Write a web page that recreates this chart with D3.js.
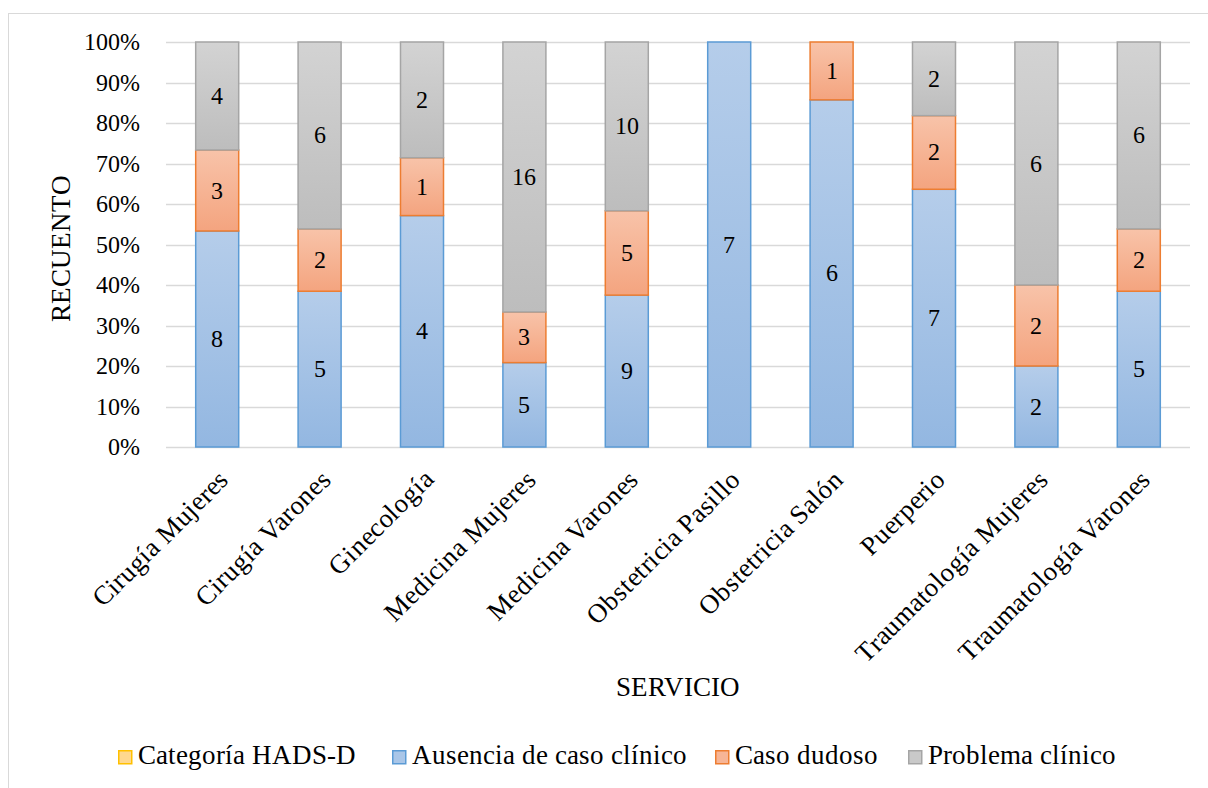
<!DOCTYPE html>
<html>
<head>
<meta charset="utf-8">
<script src="https://cdn.jsdelivr.net/npm/d3@7"></script>
<style>
  @font-face {
    font-family: "ChartSerif";
    src: local("Liberation Serif"), local("LiberationSerif"), local("LiberationSerif-Regular"), local("Times New Roman");
  }
</style>
</head>
<body style="margin:0">
<svg id="chart" width="1208" height="788"></svg>
<script>
// categories and series (counts per service)
var servicios = ["Cirugía Mujeres", "Cirugía Varones", "Ginecología", "Medicina Mujeres",
    "Medicina Varones", "Obstetricia Pasillo", "Obstetricia Salón", "Puerperio",
    "Traumatología Mujeres", "Traumatología Varones"];
var ausencia = [8, 5, 4, 5, 9, 7, 6, 7, 2, 5];
var dudoso   = [3, 2, 1, 3, 5, 0, 1, 2, 2, 2];
var problema = [4, 6, 2, 16, 10, 0, 0, 2, 6, 6];
var yTicks = [0, 0.1, 0.2, 0.3, 0.4, 0.5, 0.6, 0.7, 0.8, 0.9, 1];
var legendNames = ["Categoría HADS-D", "Ausencia de caso clínico", "Caso dudoso", "Problema clínico"];

var FONT = "ChartSerif, 'Liberation Serif'";

var series = [
    { key: "ausencia", values: ausencia, top: "#b5cdea", bottom: "#93b7e1", stroke: "#5b9bd5" },
    { key: "dudoso", values: dudoso, top: "#f8c3a9", bottom: "#f4a47f", stroke: "#ed7d31" },
    { key: "problema", values: problema, top: "#d3d3d3", bottom: "#bdbdbd", stroke: "#a5a5a5" }
];
var legendStyles = [
    { fill: "#ffd88f", stroke: "#ffc000" },
    { fill: "#a9c6e8", stroke: "#5b9bd5" },
    { fill: "#f7b596", stroke: "#ed7d31" },
    { fill: "#c9c9c9", stroke: "#a5a5a5" }
];

var svg = d3.select("#chart");
var margin = { left: 166, right: 18, top: 42, bottom: 341 };
var W = 1208, H = 788;

function txt(size) {
    return function (sel) {
        sel.style("font-family", FONT).style("font-size", size + "px");
    };
}

function draw() {
    // outer chart border
    svg.append("rect")
        .attr("x", 8.5).attr("y", 13.5)
        .attr("width", W + 10).attr("height", H + 10)
        .attr("fill", "none").attr("stroke", "#d9d9d9");

    var x = d3.scaleBand().domain(servicios)
        .range([margin.left, W - margin.right])
        .paddingInner(0.58).paddingOuter(0.29);
    var y = d3.scaleLinear().domain([0, 1]).range([H - margin.bottom, margin.top]);

    // gradients
    var defs = svg.append("defs");
    series.forEach(function (s) {
        var g = defs.append("linearGradient").attr("id", "grad-" + s.key)
            .attr("x1", 0).attr("y1", 0).attr("x2", 0).attr("y2", 1);
        g.append("stop").attr("offset", "0%").attr("stop-color", s.top);
        g.append("stop").attr("offset", "100%").attr("stop-color", s.bottom);
    });

    // gridlines
    svg.append("g").selectAll("line").data(yTicks).enter().append("line")
        .attr("x1", margin.left).attr("x2", W - margin.right)
        .attr("y1", function (d) { return Math.round(y(d)) + 0.5; })
        .attr("y2", function (d) { return Math.round(y(d)) + 0.5; })
        .attr("stroke", "#d9d9d9").attr("stroke-width", 1.5);

    // y tick labels
    svg.append("g").selectAll("text").data(yTicks).enter().append("text")
        .call(txt(24))
        .attr("x", 140).attr("y", function (d) { return y(d) + 8; })
        .attr("text-anchor", "end")
        .text(d3.format(".0%"));

    // stacked bars
    var totals = servicios.map(function (_, i) {
        return d3.sum(series, function (s) { return s.values[i]; });
    });
    var segs = [];
    servicios.forEach(function (cat, i) {
        var acc = 0;
        series.forEach(function (s) {
            var v = s.values[i];
            segs.push({ cat: cat, s: s, v: v, y0: acc / totals[i], y1: (acc + v) / totals[i] });
            acc += v;
        });
    });
    segs = segs.filter(function (d) { return d.v > 0; });

    var bars = svg.append("g");
    bars.selectAll("rect").data(segs).enter().append("rect")
        .attr("x", function (d) { return x(d.cat); })
        .attr("width", x.bandwidth())
        .attr("y", function (d) { return y(d.y1); })
        .attr("height", function (d) { return y(d.y0) - y(d.y1); })
        .attr("fill", function (d) { return "url(#grad-" + d.s.key + ")"; })
        .attr("stroke", function (d) { return d.s.stroke; })
        .attr("stroke-width", 1.5);

    bars.selectAll("text").data(segs).enter().append("text")
        .call(txt(24))
        .attr("x", function (d) { return x(d.cat) + x.bandwidth() / 2; })
        .attr("y", function (d) { return (y(d.y0) + y(d.y1)) / 2 + 8; })
        .attr("text-anchor", "middle")
        .text(function (d) { return d.v; });

    // x category labels
    svg.append("g").selectAll("text").data(servicios).enter().append("text")
        .call(txt(26.7))
        .attr("transform", function (d) {
            var cx = x(d) + x.bandwidth() / 2 + 13;
            return "translate(" + cx + "," + 481 + ") rotate(-45)";
        })
        .attr("text-anchor", "end")
        .text(function (d) { return d; });

    // axis titles
    svg.append("text")
        .call(txt(26.7))
        .attr("transform", "translate(70,248) rotate(-90)")
        .attr("text-anchor", "middle")
        .text("RECUENTO");
    svg.append("text")
        .call(txt(26.7))
        .attr("x", (margin.left + W - margin.right) / 2).attr("y", 696)
        .attr("text-anchor", "middle")
        .text("SERVICIO");

    // legend
    var legendX = [118, 392, 715, 908];
    var leg = svg.append("g").selectAll("g").data(legendNames).enter().append("g")
        .attr("transform", function (d, i) { return "translate(" + legendX[i] + ",750)"; });
    leg.append("rect")
        .attr("x", 0.75).attr("y", 0.75)
        .attr("width", 13).attr("height", 13)
        .attr("fill", function (d, i) { return legendStyles[i].fill; })
        .attr("stroke", function (d, i) { return legendStyles[i].stroke; })
        .attr("stroke-width", 1.5);
    leg.append("text")
        .call(txt(26.7))
        .attr("x", 20).attr("y", 14)
        .text(function (d) { return d; });
}

draw();
</script>
</body>
</html>
